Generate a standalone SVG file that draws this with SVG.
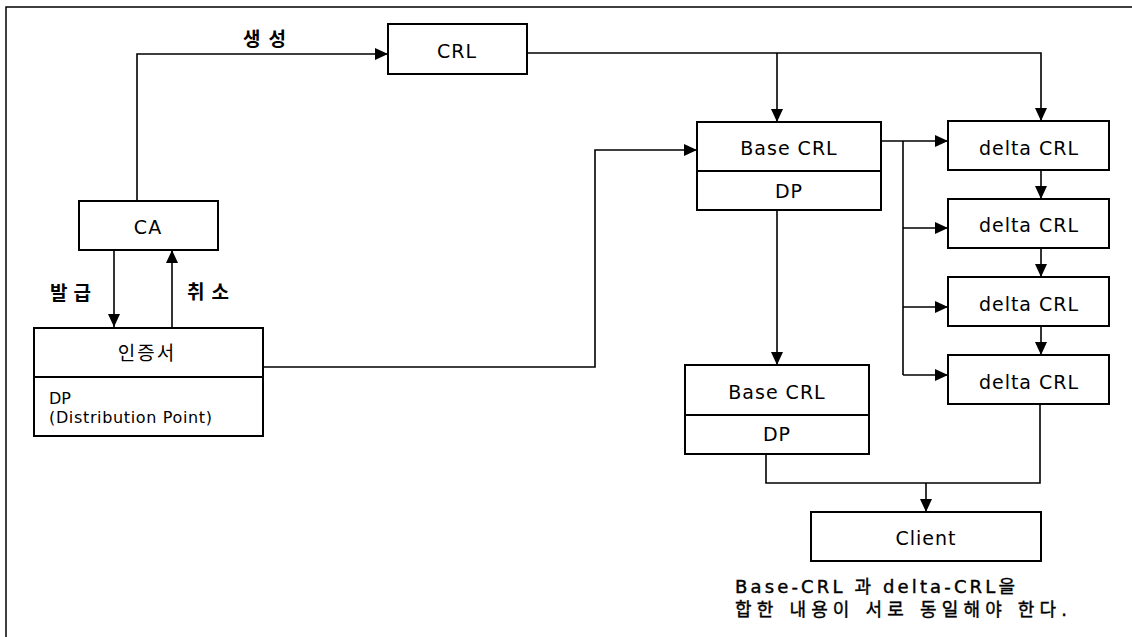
<svg xmlns="http://www.w3.org/2000/svg" width="1132" height="637" viewBox="0 0 1132 637">
<style>
.box{fill:#fff;stroke:#000;stroke-width:2}
.ln{fill:none;stroke:#000;stroke-width:1.6}
.frame{fill:none;stroke:#000;stroke-width:1.5}
.t{font-family:"DejaVu Sans","Noto Sans CJK KR",sans-serif;font-size:19px;letter-spacing:1px;text-anchor:middle;fill:#000}
.k{font-family:"Noto Sans CJK KR","DejaVu Sans",sans-serif;font-size:19px;text-anchor:middle;fill:#000}
.kb{font-family:"Noto Sans CJK KR","DejaVu Sans",sans-serif;font-size:19px;font-weight:bold;fill:#000}
.s{font-family:"DejaVu Sans",sans-serif;font-size:16px;fill:#000}
.n{font-family:"DejaVu Sans","Noto Sans CJK KR",sans-serif;font-size:18px;fill:#000;stroke:#000;stroke-width:0.4}
</style>
<defs>
<marker id="ah" viewBox="0 0 13 12" refX="13" refY="6" markerWidth="13" markerHeight="12" markerUnits="userSpaceOnUse" orient="auto">
<path d="M0,0 L13,6 L0,12 Z" fill="#000"/>
</marker>
</defs>
<path class="frame" d="M6,637 L6,7 L1132,7"/>
<g id="connectors">
<path class="ln" d="M137,201 L137,54 L388,54" marker-end="url(#ah)"/>
<path class="ln" d="M114,250 L114,327" marker-end="url(#ah)"/>
<path class="ln" d="M172,327 L172,250" marker-end="url(#ah)"/>
<path class="ln" d="M527,53 L1041,53 L1041,121" marker-end="url(#ah)"/>
<path class="ln" d="M777,53 L777,122" marker-end="url(#ah)"/>
<path class="ln" d="M263,367 L595,367 L595,150 L697,150" marker-end="url(#ah)"/>
<path class="ln" d="M881,141 L948,141" marker-end="url(#ah)"/>
<path class="ln" d="M903,141 L903,375"/>
<path class="ln" d="M903,228 L948,228" marker-end="url(#ah)"/>
<path class="ln" d="M903,307 L948,307" marker-end="url(#ah)"/>
<path class="ln" d="M903,375 L948,375" marker-end="url(#ah)"/>
<path class="ln" d="M1041,170 L1041,199" marker-end="url(#ah)"/>
<path class="ln" d="M1041,248 L1041,277" marker-end="url(#ah)"/>
<path class="ln" d="M1041,326 L1041,355" marker-end="url(#ah)"/>
<path class="ln" d="M777,210 L777,365" marker-end="url(#ah)"/>
<path class="ln" d="M766,454 L766,483 L1040,483 L1040,404"/>
<path class="ln" d="M926,483 L926,512" marker-end="url(#ah)"/>
<text class="kb" x="243" y="46" textLength="43" lengthAdjust="spacing">생성</text>
<text class="kb" x="50" y="300" textLength="41" lengthAdjust="spacing">발급</text>
<text class="kb" x="187" y="299" textLength="42" lengthAdjust="spacing">취소</text>
</g>
<g id="crl">
<rect class="box" x="388" y="24" width="139" height="50"/>
<text class="t" x="457" y="58">CRL</text>
</g>
<g id="ca">
<rect class="box" x="79" y="201" width="139" height="49"/>
<text class="t" x="148" y="234">CA</text>
</g>
<g id="cert">
<rect class="box" x="34" y="328" width="229" height="108"/>
<line class="box" x1="34" y1="377" x2="263" y2="377"/>
<text class="k" x="147" y="360" letter-spacing="2">인증서</text>
<text class="s" x="49" y="404">DP</text>
<text class="s" x="49" y="423" textLength="163">(Distribution Point)</text>
</g>
<g id="base1">
<rect class="box" x="697" y="122" width="184" height="88"/>
<line class="box" x1="697" y1="171" x2="881" y2="171"/>
<text class="t" x="789" y="155">Base CRL</text>
<text class="t" x="789" y="198">DP</text>
</g>
<g id="base2">
<rect class="box" x="685" y="365" width="184" height="89"/>
<line class="box" x1="685" y1="415" x2="869" y2="415"/>
<text class="t" x="777" y="399">Base CRL</text>
<text class="t" x="777" y="441">DP</text>
</g>
<g id="delta1">
<rect class="box" x="948" y="121" width="161" height="49"/>
<text class="t" x="1029" y="155">delta CRL</text>
</g>
<g id="delta2">
<rect class="box" x="948" y="199" width="161" height="49"/>
<text class="t" x="1029" y="232">delta CRL</text>
</g>
<g id="delta3">
<rect class="box" x="948" y="277" width="161" height="49"/>
<text class="t" x="1029" y="311">delta CRL</text>
</g>
<g id="delta4">
<rect class="box" x="948" y="355" width="161" height="49"/>
<text class="t" x="1029" y="389">delta CRL</text>
</g>
<g id="client">
<rect class="box" x="811" y="512" width="230" height="49"/>
<text class="t" x="926" y="545">Client</text>
</g>
<g id="note">
<text class="n" x="735" y="593" textLength="280" lengthAdjust="spacing">Base-CRL 과 delta-CRL을</text>
<text class="n" x="735" y="616" textLength="332" lengthAdjust="spacing">합한 내용이 서로 동일해야 한다.</text>
</g>
</svg>
